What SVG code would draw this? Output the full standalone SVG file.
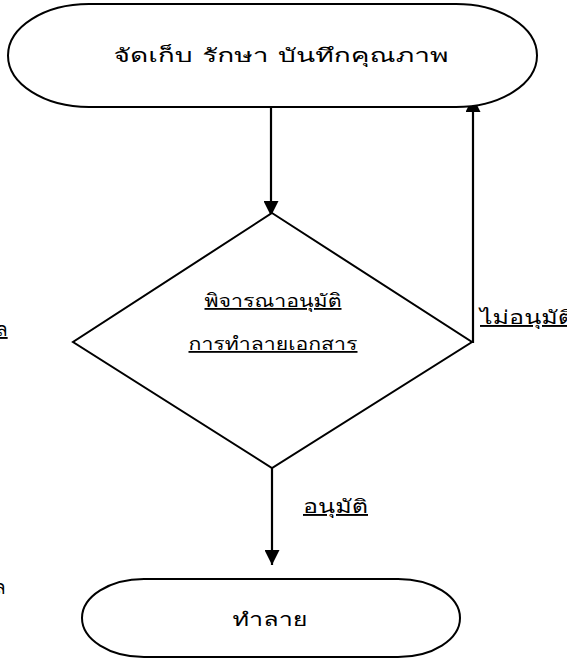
<svg xmlns="http://www.w3.org/2000/svg" width="567" height="658" viewBox="0 0 567 658">
<defs>
<style>
.s{fill:#fff;stroke:#000;stroke-width:2}
.c{fill:none;stroke:#000;stroke-width:2.2}
.t{font-family:"Waree","Umpush","Garuda","Sawasdee","Loma","Noto Sans Thai","Noto Sans",sans-serif;fill:#000;font-weight:normal}
.u{text-decoration:underline}
</style>
<marker id="ah" viewBox="0 0 10 10" refX="10" refY="5" markerWidth="15" markerHeight="15" markerUnits="userSpaceOnUse" orient="auto">
<path d="M0,0 L10,5 L0,10 z" fill="#000"/>
</marker>
</defs>
<rect width="567" height="658" fill="#fff"/>
<g id="connectors">
<line class="c" x1="271" y1="107" x2="271" y2="216" marker-end="url(#ah)"/>
<polyline class="c" points="472,342 473,342 473,97" marker-end="url(#ah)"/>
<line class="c" x1="272" y1="468" x2="272" y2="565" marker-end="url(#ah)"/>
</g>
<g id="start">
<rect class="s" x="8" y="4" width="529" height="103" rx="81" ry="51.5"/>
<text class="t" x="281" y="62" font-size="19" text-anchor="middle" textLength="335" lengthAdjust="spacingAndGlyphs">จัดเก็บ รักษา บันทึกคุณภาพ</text>
</g>
<g id="decision">
<polygon class="s" points="272,213 472,342 272,468 73,342"/>
<text class="t u" x="273" y="307" font-size="18" text-anchor="middle" textLength="137" lengthAdjust="spacingAndGlyphs">พิจารณาอนุมัติ</text>
<text class="t u" x="273" y="350" font-size="18" text-anchor="middle" textLength="169" lengthAdjust="spacingAndGlyphs">การทำลายเอกสาร</text>
</g>
<g id="end">
<rect class="s" x="82" y="579" width="378" height="78" rx="62" ry="39"/>
<text class="t" x="270" y="626" font-size="19" text-anchor="middle" textLength="75" lengthAdjust="spacingAndGlyphs">ทำลาย</text>
</g>
<g id="labels">
<text class="t u" x="480" y="324" font-size="19" textLength="94" lengthAdjust="spacingAndGlyphs">ไม่อนุมัติ</text>
<text class="t u" x="303" y="513" font-size="19" textLength="65" lengthAdjust="spacingAndGlyphs">อนุมัติ</text>
<text class="t u" x="-4" y="336" font-size="19">ล</text>
<text class="t" x="-6" y="594" font-size="19">ล</text>
</g>
</svg>
